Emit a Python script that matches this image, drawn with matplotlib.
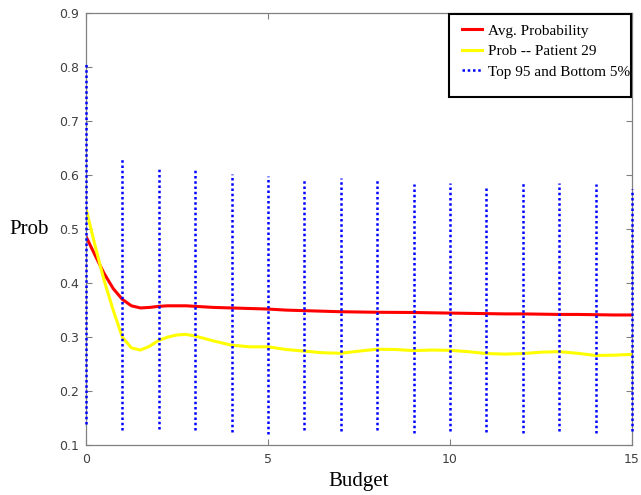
import matplotlib
matplotlib.use('Agg')
import matplotlib.pyplot as plt
from matplotlib.patches import Rectangle

# budget grid the curves were read at
budget = [0, 0.25, 0.5, 0.75, 1, 1.25, 1.5, 1.75, 2, 2.25, 2.5, 2.75, 3,
          3.5, 4, 4.5, 5, 5.5, 6, 6.5, 7, 7.5, 8, 8.5, 9, 9.5, 10,
          10.5, 11, 11.5, 12, 12.5, 13, 13.5, 14, 14.5, 15]

avg_prob = [0.487, 0.452, 0.418, 0.390, 0.370, 0.358, 0.354, 0.355, 0.357,
            0.358, 0.358, 0.358, 0.357, 0.355, 0.354, 0.353, 0.352, 0.350,
            0.349, 0.348, 0.347, 0.3465, 0.346, 0.3458, 0.3456, 0.345,
            0.3445, 0.344, 0.3435, 0.343, 0.343, 0.3425, 0.342, 0.342,
            0.3415, 0.341, 0.341]

patient29 = [0.539, 0.470, 0.405, 0.350, 0.300, 0.280, 0.276, 0.283, 0.294,
             0.300, 0.304, 0.305, 0.302, 0.293, 0.285, 0.282, 0.282, 0.277,
             0.274, 0.271, 0.270, 0.274, 0.2775, 0.277, 0.275, 0.276,
             0.2755, 0.273, 0.2695, 0.2685, 0.2695, 0.272, 0.273, 0.270,
             0.266, 0.2665, 0.268]

# 95th / 5th percentile band at each integer budget
budget_int = list(range(16))
top95 = [0.810, 0.630, 0.615, 0.612, 0.602, 0.598, 0.593, 0.595, 0.595,
         0.584, 0.586, 0.577, 0.585, 0.585, 0.584, 0.575]
bottom5 = [0.139, 0.128, 0.130, 0.127, 0.124, 0.121, 0.127, 0.126, 0.127,
           0.123, 0.126, 0.124, 0.123, 0.126, 0.123, 0.126]

grey = '#808080'
W, H = 641, 495

fig = plt.figure(figsize=(W / 100, H / 100), dpi=100)
ax = fig.add_axes([0.134, 0.101, 0.852, 0.872])

ax.plot(budget, avg_prob, color='#ff0000', lw=2.2, label='Avg. Probability')
ax.plot(budget, patient29, color='#ffff00', lw=2.2, label='Prob -- Patient 29')
ax.vlines(budget_int, bottom5, top95, colors='#0000ff', lw=1.8,
          linestyles=(0, (1, 1.1)), label='Top 95 and Bottom 5%',
          clip_on=False, zorder=3)

ax.set_xlim(0, 15)
ax.set_ylim(0.1, 0.9)
ax.set_xticks([0, 5, 10, 15])
ax.set_yticks([0.1, 0.2, 0.3, 0.4, 0.5, 0.6, 0.7, 0.8, 0.9])

for s in ax.spines.values():
    s.set_color(grey)
    s.set_linewidth(0.9)
ax.tick_params(direction='in', top=True, right=True, length=4, width=0.8,
               color=grey, labelcolor='#404040', labelsize=9)
ax.tick_params(axis='y', pad=5)
ax.tick_params(axis='x', pad=6)

ax.set_xlabel('Budget', family='Liberation Serif', fontsize=15, labelpad=4)
ax.set_ylabel('Prob', family='Liberation Serif', fontsize=15, rotation=0,
              va='center', ha='right', labelpad=7)

# legend box drawn separately: the text runs right up to the frame
box = Rectangle((449 / W, 1 - 97 / H), (631 - 449) / W, (97 - 14) / H,
                transform=fig.transFigure, facecolor='white',
                edgecolor='black', lw=1.5, zorder=4, clip_on=False)
ax.add_patch(box)
leg = ax.legend(loc='upper left', bbox_to_anchor=(442 / W, 1 - 4 / H),
                bbox_transform=fig.transFigure,
                prop={'family': 'Liberation Serif', 'size': 11},
                frameon=False, handlelength=1.3, handletextpad=0.4,
                labelspacing=0.45, borderpad=0.8)
leg.set_zorder(5)

plt.savefig('out.png', dpi=100)
plt.close()
